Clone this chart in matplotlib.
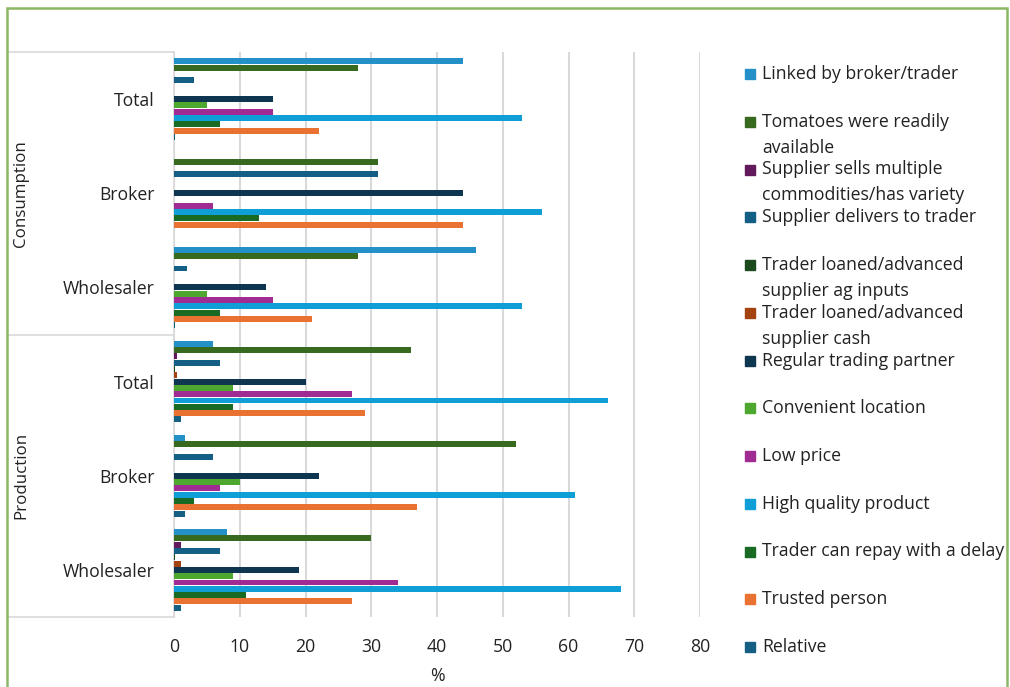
import numpy as np
import matplotlib.pyplot as plt
from matplotlib.patches import Rectangle
import matplotlib.transforms as mtransforms

plt.rcParams['font.family'] = ['Open Sans', 'DejaVu Sans']

# groups, top to bottom
sectors = ['Consumption', 'Production']
groups = ['Total', 'Broker', 'Wholesaler', 'Total', 'Broker', 'Wholesaler']

# series, in legend order (top bar of each group first)
series = ['Linked by broker/trader',
          'Tomatoes were readily\navailable',
          'Supplier sells multiple\ncommodities/has variety',
          'Supplier delivers to trader',
          'Trader loaned/advanced\nsupplier ag inputs',
          'Trader loaned/advanced\nsupplier cash',
          'Regular trading partner',
          'Convenient location',
          'Low price',
          'High quality product',
          'Trader can repay with a delay',
          'Trusted person',
          'Relative']
colors = ['#2390c8', '#376a1f', '#621a5c', '#145f85', '#1b4a1c', '#a3430f',
          '#0f3650', '#4ea72e', '#a02b93', '#0f9ed5', '#196b24', '#e97132',
          '#156082']

# % per group (C-Total, C-Broker, C-Wholesaler, P-Total, P-Broker, P-Wholesaler)
linked      = [44, 0, 46, 6, 1.7, 8]
tomatoes    = [28, 31, 28, 36, 52, 30]
multi       = [0, 0, 0, 0.5, 0, 1]
delivers    = [3, 31, 2, 7, 6, 7]
ag_inputs   = [0, 0, 0, 0.2, 0, 0.2]
cash        = [0, 0, 0, 0.5, 0, 1]
regular     = [15, 44, 14, 20, 22, 19]
convenient  = [5, 0, 5, 9, 10, 9]
low_price   = [15, 6, 15, 27, 7, 34]
quality     = [53, 56, 53, 66, 61, 68]
repay       = [7, 13, 7, 9, 3, 11]
trusted     = [22, 44, 21, 29, 37, 27]
relative    = [0.2, 0, 0.2, 1, 1.7, 1]

values = [linked, tomatoes, multi, delivers, ag_inputs, cash, regular,
          convenient, low_price, quality, repay, trusted, relative]

W, H = 1010, 687
fs = 12.7
txt = '#222222'
fig = plt.figure(figsize=(W / 100, H / 100), dpi=100)
ax = fig.add_axes([174 / W, 1 - 617 / H, (700 - 174) / W, (617 - 52) / H])

n = len(series)
step = 0.0669
y = np.arange(len(groups))
for i in range(n):
    ax.barh(y + (i - (n - 1) / 2) * step, values[i], height=0.063,
            color=colors[i], edgecolor='none', zorder=3)

ax.set_ylim(5.5, -0.5)
ax.set_xlim(0, 80)
ax.set_xticks(range(0, 81, 10))
ax.grid(axis='x', color='#d9d9d9', lw=1.5, zorder=0)
for s in ['top', 'right', 'bottom']:
    ax.spines[s].set_visible(False)
ax.spines['left'].set_color('#d9d9d9')
ax.spines['left'].set_linewidth(1.2)
ax.tick_params(length=0)
ax.tick_params(axis='x', labelsize=fs, pad=15, colors=txt)
ax.set_yticks(y)
ax.set_yticklabels(groups, fontsize=fs, color=txt)
ax.tick_params(axis='y', pad=14)
ax.set_xlabel('%', fontsize=fs, color=txt, labelpad=8)

# left category table
left = (8 - 174) / (700 - 174)
tr = mtransforms.blended_transform_factory(ax.transAxes, ax.transData)
for yy in [-0.5, 2.5, 5.5]:
    ax.plot([left, 0], [yy, yy], color='#d9d9d9', lw=1.2, transform=tr,
            clip_on=False)
for k, name in enumerate(sectors):
    ax.text((21 - 174) / (700 - 174), 1 + 3 * k, name, rotation=90,
            ha='center', va='center', fontsize=fs - 0.5, color=txt,
            transform=tr)

# legend
lx, ly, lstep = 745, 74, 47.75
for i, lab in enumerate(series):
    yc = ly + i * lstep
    fig.add_artist(Rectangle((lx / W, 1 - (yc + 5) / H), 10 / W, 10 / H,
                             transform=fig.transFigure, color=colors[i]))
    for j, line in enumerate(lab.split('\n')):
        fig.text(762 / W, 1 - (yc + j * 26) / H, line, fontsize=fs,
                 va='center', ha='left', color=txt)

# outer green frame
fig.add_artist(Rectangle((7 / W, -0.05), 1000 / W, 1.05 - 8 / H,
                         transform=fig.transFigure, fill=False,
                         edgecolor='#8cb866', lw=1.8))

fig.savefig('out.png', dpi=100)
